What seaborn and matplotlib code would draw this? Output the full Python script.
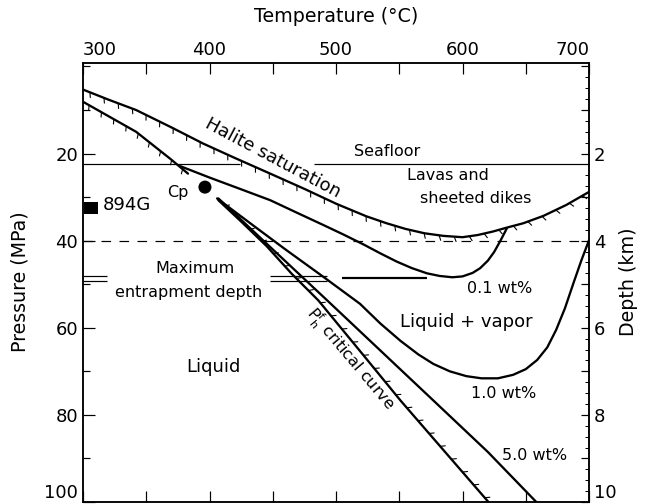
import matplotlib
matplotlib.use("Agg")
import matplotlib.pyplot as plt
import matplotlib.patheffects as pe
from matplotlib.ticker import MultipleLocator, FuncFormatter
import seaborn as sns

# Halite saturation curve (upper, hatched)
halite_T = [300, 320, 342, 370, 395, 420, 448, 475, 500, 524, 540, 555, 570, 585,
            600, 612, 624, 635, 648, 664, 682, 700]
halite_P = [5.3, 7.6, 10.0, 14.0, 17.7, 21.0, 24.6, 28.1, 31.5, 34.4, 36.0, 37.3, 38.3, 38.9,
            39.2, 38.7, 37.9, 37.0, 36.0, 34.3, 31.8, 28.8]

# Lower hatched curve ending near the critical point
halite2_T = [300, 342, 369, 383]
halite2_P = [8.1, 15.0, 21.2, 24.6]

# Two-phase boundaries for given salinities
wt01_T = [377, 400, 425, 448, 470, 490, 506, 522, 535, 548, 560, 572, 582, 592,
          600, 608, 614, 620, 625, 630, 635]
wt01_P = [22.9, 25.5, 28.2, 30.7, 33.7, 36.4, 38.6, 40.9, 42.9, 44.8, 46.3, 47.5, 48.1, 48.4,
          48.2, 47.4, 46.3, 44.6, 42.6, 40.0, 37.2]

wt10_T = [406, 435, 460, 490, 519, 535, 551, 565, 577, 590, 603, 615, 628, 640,
          650, 659, 667, 674, 681, 688, 694, 700]
wt10_P = [30.3, 36.6, 42.0, 48.3, 54.5, 59.0, 63.0, 66.1, 68.3, 70.0, 71.1, 71.6, 71.6, 70.8,
          69.5, 67.4, 64.5, 60.5, 55.5, 49.5, 44.5, 39.9]

wt50_T = [407, 450, 493, 535, 577, 620, 660]
wt50_P = [30.3, 42.0, 53.7, 65.2, 76.7, 88.5, 100.5]

# Critical curve
crit_T = [407, 425, 445, 465, 486, 520, 551, 585, 622]
crit_P = [30.7, 35.6, 41.2, 47.6, 53.7, 65.7, 76.7, 88.1, 100.5]

# Critical point and sample depth
cp_T, cp_P = [396.4], [27.7]
site_T = [300.5, 312.0]
site_P = [31.1, 33.8]

seafloor_P = 22.3
seafloor_gap = (424, 483)
dashed_P = 40.0
entrap_P = [48.0, 49.2]
entrap_single_P = 48.5

temp_ticks = [300, 400, 500, 600, 700]
press_ticks = [20, 40, 60, 80, 100]
depth_ticks = [2, 4, 6, 8, 10]

sns.set_theme(style="ticks")
plt.rcParams["font.family"] = ["DejaVu Sans"]
plt.rcParams["mathtext.default"] = "regular"
for key in ["text.color", "axes.labelcolor", "xtick.color", "ytick.color", "axes.edgecolor"]:
    plt.rcParams[key] = "black"

W, H = 648, 504
fig = plt.figure(figsize=(W / 72, H / 72), dpi=72)
ax = fig.add_axes([83 / W, 2 / H, (589 - 83) / W, (502 - 63) / H])
ax.set_xlim(300, 700)
ax.set_ylim(100, -0.8)

lw_main = 2.3
kw = dict(ax=ax, color="black", linewidth=lw_main, sort=False, estimator=None, legend=False)

sns.lineplot(x=halite_T, y=halite_P, **kw)
ax.lines[-1].set_path_effects([pe.withTickedStroke(spacing=15, angle=-65, length=0.35, linewidth=1.1)])

sns.lineplot(x=halite2_T, y=halite2_P, **kw)
ax.lines[-1].set_path_effects([pe.withTickedStroke(spacing=14, angle=-65, length=0.35, linewidth=1.1)])

sns.lineplot(x=wt01_T, y=wt01_P, **kw)
sns.lineplot(x=wt10_T, y=wt10_P, **kw)
sns.lineplot(x=wt50_T, y=wt50_P, **kw)

sns.lineplot(x=crit_T, y=crit_P, **kw)
ax.lines[-1].set_path_effects([pe.withTickedStroke(spacing=17, angle=55, length=0.3, linewidth=1.1)])

# Reference levels
ax.hlines(seafloor_P, 300, seafloor_gap[0], color="black", linewidth=1.2)
ax.hlines(seafloor_P, seafloor_gap[1], 700, color="black", linewidth=1.2)
ax.axhline(dashed_P, color="black", linewidth=1.2, linestyle=(0, (8, 7)))
for p in entrap_P:
    ax.hlines(p, 300, 319, color="black", linewidth=1.2)
    ax.hlines(p, 448, 493, color="black", linewidth=1.2)
ax.hlines(entrap_single_P, 505, 572, color="black", linewidth=2.2)

# Critical point and drill site
sns.scatterplot(x=cp_T, y=cp_P, ax=ax, color="black", s=170, edgecolor="none", legend=False)
ax.fill_between(site_T, site_P[0], site_P[1], color="black", linewidth=0)

fs_big, fs_small, fs_label = 18, 16, 19
ax.text(375.1, 28.9, "Cp", fontsize=fs_small, ha="center", va="center")
ax.text(316, 31.9, "894G", fontsize=fs_big, ha="left", va="center")
ax.text(450.2, 21.0, "Halite saturation", fontsize=fs_big, ha="center", va="center",
        rotation=-28, rotation_mode="anchor")
ax.text(540.8, 19.6, "Seafloor", fontsize=fs_small, ha="center", va="center")
ax.text(588.1, 25.0, "Lavas and", fontsize=fs_small, ha="center", va="center")
ax.text(610.5, 30.3, "sheeted dikes", fontsize=fs_small, ha="center", va="center")
ax.text(629.6, 51.0, "0.1 wt%", fontsize=fs_small, ha="center", va="center")
ax.text(603.3, 58.7, "Liquid + vapor", fontsize=fs_big, ha="center", va="center")
ax.text(632.3, 75.2, "1.0 wt%", fontsize=fs_small, ha="center", va="center")
ax.text(657.3, 89.4, "5.0 wt%", fontsize=fs_small, ha="center", va="center")
ax.text(403, 69.1, "Liquid", fontsize=fs_big, ha="center", va="center")
ax.text(388.5, 46.4, "Maximum", fontsize=fs_small, ha="center", va="center")
ax.text(383.2, 51.8, "entrapment depth", fontsize=fs_small, ha="center", va="center")
ax.text(511, 67.2, r"$P^f_h$ critical curve", fontsize=fs_small, ha="center", va="center",
        rotation=-50, rotation_mode="anchor")

# Axes, ticks and labels
for s in ax.spines.values():
    s.set_linewidth(1.5)
ax.xaxis.set_major_locator(plt.FixedLocator(temp_ticks))
ax.xaxis.set_minor_locator(MultipleLocator(50))
ax.tick_params(axis="x", which="both", direction="in", top=True, bottom=True,
               labeltop=True, labelbottom=False, length=11, width=1.2, pad=4,
               labelsize=fs_big)
xt = ax.xaxis.get_major_ticks()
xt[0].label2.set_horizontalalignment("left")
xt[-1].label2.set_horizontalalignment("right")

ax.yaxis.set_major_locator(plt.FixedLocator(press_ticks))
ax.yaxis.set_minor_locator(MultipleLocator(10))
ax.yaxis.set_major_formatter(FuncFormatter(lambda v, _: "" if v >= 100 else f"{int(v)}"))
ax.tick_params(axis="y", which="major", direction="in", left=True, right=False,
               length=12, width=1.2, pad=5, labelsize=fs_big)
ax.tick_params(axis="y", which="minor", direction="in", left=True, right=False,
               length=7, width=1.2)
ax.set_xlabel("")
ax.set_ylabel("")

ax2 = ax.twinx()
ax2.set_ylim(10, -0.08)
ax2.yaxis.set_major_locator(MultipleLocator(1))
ax2.yaxis.set_minor_locator(MultipleLocator(0.25))
ax2.yaxis.set_major_formatter(FuncFormatter(
    lambda v, _: f"{int(round(v))}" if int(round(v)) in depth_ticks[:-1] else ""))
ax2.tick_params(axis="y", which="major", direction="in", length=8, width=1.2, pad=5,
                labelsize=fs_big)
ax2.tick_params(axis="y", which="minor", direction="in", length=4, width=1.0)
for s in ax2.spines.values():
    s.set_linewidth(1.5)

# Bottom-most tick values sit just above the lower frame edge
fig.text(78 / W, 1 - 493.5 / H, f"{press_ticks[-1]}", fontsize=fs_big, ha="right", va="center")
fig.text(594 / W, 1 - 492.5 / H, f"{depth_ticks[-1]}", fontsize=fs_big, ha="left", va="center")

fig.text(336 / W, 1 - 17 / H, "Temperature (°C)", fontsize=fs_label, ha="center", va="center")
fig.text(20 / W, 1 - 282 / H, "Pressure (MPa)", fontsize=fs_label, ha="center", va="center",
         rotation=90)
fig.text(628 / W, 1 - 282 / H, "Depth (km)", fontsize=fs_label, ha="center", va="center",
         rotation=90)

fig.savefig("out.png", dpi=72)
